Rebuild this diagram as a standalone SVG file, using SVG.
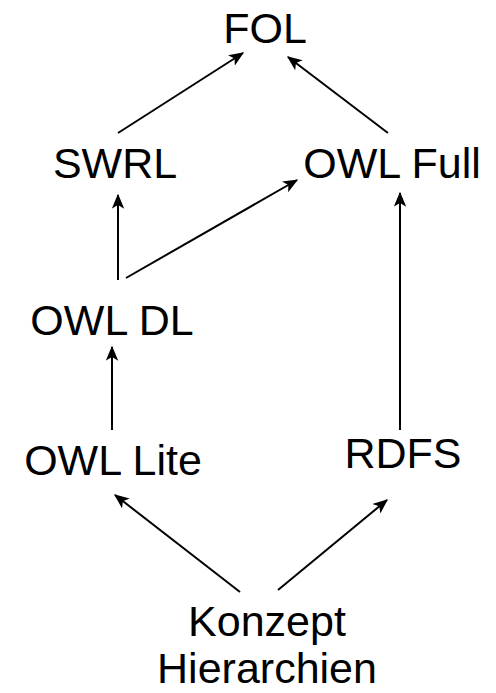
<svg xmlns="http://www.w3.org/2000/svg" width="496" height="693" viewBox="0 0 496 693">
<defs>
<style>
text{font-family:"Liberation Sans",Arial,sans-serif;font-size:43px;fill:#000;text-anchor:middle}
.c line{stroke:#000;stroke-width:2;marker-end:url(#ah)}
</style>
<marker id="ah" viewBox="0 0 12 10" refX="11" refY="5" markerWidth="7.5" markerHeight="6.5" markerUnits="strokeWidth" orient="auto">
<path d="M0,0 L12,5 L0,10 L3,5 Z" fill="#000"/>
</marker>
</defs>
<rect width="496" height="693" fill="#fff"/>
<g id="FOL"><text x="265" y="43">FOL</text></g>
<g id="SWRL"><text x="115" y="178">SWRL</text></g>
<g id="OWLFull"><text x="392" y="178">OWL Full</text></g>
<g id="OWLDL"><text x="112" y="335">OWL DL</text></g>
<g id="OWLLite"><text x="113" y="475">OWL Lite</text></g>
<g id="RDFS"><text x="403" y="468">RDFS</text></g>
<g id="Konzept"><text x="267" y="636">Konzept</text><text x="267" y="683">Hierarchien</text></g>
<g class="c" id="connectors">
<line x1="118" y1="133" x2="243" y2="53"/>
<line x1="388" y1="133" x2="288" y2="57"/>
<line x1="118" y1="280" x2="118" y2="195"/>
<line x1="126" y1="278" x2="297" y2="180"/>
<line x1="112" y1="430" x2="112" y2="347"/>
<line x1="400" y1="430" x2="400" y2="193"/>
<line x1="240" y1="592" x2="115" y2="495"/>
<line x1="278" y1="590" x2="387" y2="500"/>
</g>
</svg>
